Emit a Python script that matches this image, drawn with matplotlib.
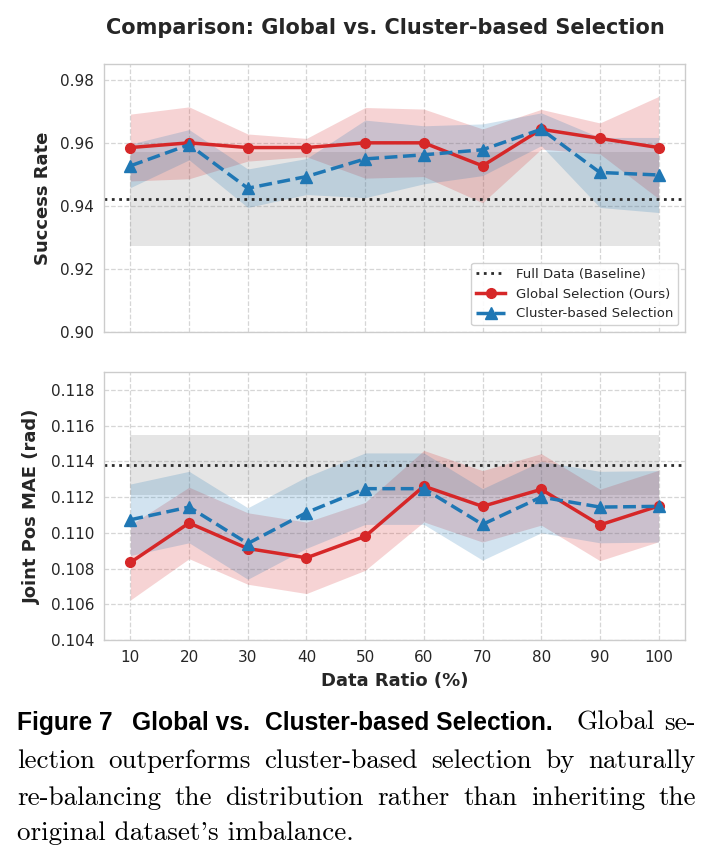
import matplotlib
matplotlib.use("Agg")
import matplotlib.pyplot as plt

# data
ratios = [10, 20, 30, 40, 50, 60, 70, 80, 90, 100]

global_sr = [0.9585, 0.9600, 0.9585, 0.9585, 0.9600, 0.9600, 0.9527, 0.9643, 0.9614, 0.9585]
global_sr_std = [0.0106, 0.0114, 0.0043, 0.0029, 0.0112, 0.0107, 0.0117, 0.0063, 0.0049, 0.0162]
cluster_sr = [0.9527, 0.9594, 0.9456, 0.9493, 0.9549, 0.9562, 0.9578, 0.9643, 0.9506, 0.9498]
cluster_sr_std = [0.0069, 0.0048, 0.0061, 0.0057, 0.0123, 0.0092, 0.0082, 0.0052, 0.0111, 0.0119]
baseline_sr = 0.9422
baseline_sr_std = 0.0150

global_mae = [0.10834, 0.11055, 0.10912, 0.10860, 0.10980, 0.11261, 0.11148, 0.11243, 0.11044, 0.11150]
global_mae_std = [0.0021, 0.0020, 0.0020, 0.0020, 0.0019, 0.0020, 0.0020, 0.0020, 0.0020, 0.0020]
cluster_mae = [0.11073, 0.11144, 0.10940, 0.11113, 0.11247, 0.11247, 0.11047, 0.11200, 0.11144, 0.11148]
cluster_mae_std = [0.0020, 0.0020, 0.0020, 0.0020, 0.0020, 0.0020, 0.0020, 0.0020, 0.0020, 0.0020]
baseline_mae = 0.1138
baseline_mae_std = 0.0017

sr_ticks = [0.90, 0.92, 0.94, 0.96, 0.98]
mae_ticks = [0.104, 0.106, 0.108, 0.110, 0.112, 0.114, 0.116, 0.118]

RED = "#d62728"
BLUE = "#1f77b4"
TXT = "#262626"
W, H = 713, 852

plt.rcParams["font.family"] = ["DejaVu Sans"]


def px_box(left, top, right, bottom):
    return [left / W, 1 - bottom / H, (right - left) / W, (bottom - top) / H]


def draw_panel(ax, base, base_std, g, g_std, c, c_std, show_legend):
    lo_b = [base - base_std] * len(ratios)
    hi_b = [base + base_std] * len(ratios)
    ax.fill_between(ratios, lo_b, hi_b, color="gray", alpha=0.2, lw=0)
    ax.fill_between(ratios, [m - s for m, s in zip(g, g_std)],
                    [m + s for m, s in zip(g, g_std)], color=RED, alpha=0.2, lw=0)
    ax.fill_between(ratios, [m - s for m, s in zip(c, c_std)],
                    [m + s for m, s in zip(c, c_std)], color=BLUE, alpha=0.2, lw=0)
    ax.axhline(base, color="#2b2b2b", ls=":", lw=2, label="Full Data (Baseline)")
    ax.plot(ratios, g, color=RED, lw=2.5, marker="o", ms=7, label="Global Selection (Ours)")
    ax.plot(ratios, c, color=BLUE, lw=2.5, ls="--", marker="^", ms=8,
            label="Cluster-based Selection")

    ax.grid(True, ls="--", color="#cccccc", lw=0.9, alpha=0.8)
    ax.set_axisbelow(True)
    for sp in ax.spines.values():
        sp.set_color("#cccccc")
        sp.set_linewidth(1.0)
    ax.tick_params(length=0, pad=7, labelsize=11, labelcolor=TXT)
    if show_legend:
        leg = ax.legend(loc="lower right", fontsize=9.5, framealpha=0.9,
                        edgecolor="#cccccc", handlelength=2.2)
        for t in leg.get_texts():
            t.set_color(TXT)


fig = plt.figure(figsize=(W / 100, H / 100), dpi=100)
ax1 = fig.add_axes(px_box(104, 64, 685, 332))
ax2 = fig.add_axes(px_box(104, 372, 685, 640), sharex=ax1)

draw_panel(ax1, baseline_sr, baseline_sr_std, global_sr, global_sr_std,
           cluster_sr, cluster_sr_std, True)
draw_panel(ax2, baseline_mae, baseline_mae_std, global_mae, global_mae_std,
           cluster_mae, cluster_mae_std, False)

ax1.set_xticks(ratios)
ax1.set_xlim(5.5, 104.5)
ax1.tick_params(labelbottom=False)
ax1.set_ylim(0.90, 0.985)
ax1.set_yticks(sr_ticks)
ax1.set_yticklabels([f"{v:.2f}" for v in sr_ticks])
ax2.set_ylim(0.104, 0.119)
ax2.set_yticks(mae_ticks)
ax2.set_yticklabels([f"{v:.3f}" for v in mae_ticks])

ax1.set_ylabel("Success Rate", fontsize=13, fontweight="bold", color=TXT, labelpad=6)
ax2.set_ylabel("Joint Pos MAE (rad)", fontsize=13, fontweight="bold", color=TXT, labelpad=7)
ax2.set_xlabel("Data Ratio (%)", fontsize=13, fontweight="bold", color=TXT, labelpad=5)

fig.text(385 / W, 1 - 28 / H, "Comparison: Global vs. Cluster-based Selection",
         ha="center", va="center", fontsize=15, fontweight="bold", color=TXT)

# caption, justified like the paper's text block
B = dict(family=["Liberation Sans", "DejaVu Sans"], weight="bold", size=17.7)
S = dict(family=["cmr10", "DejaVu Serif"], size=19.5)
LEFT, RIGHT = 17, 696

line2 = "lection outperforms cluster-based selection by naturally".split()
line3 = "re-balancing the distribution rather than inheriting the".split()
cap_lines = [
    ([("Figure 7", B), ("Global vs.", B), ("Cluster-based Selection.", B),
      ("Global", S), ("se-", S)], [2.0, 1.5, 2.4, 1.0], 730, True),
    ([(w, S) for w in line2], [1.0] * (len(line2) - 1), 768, True),
    ([(w, S) for w in line3], [1.0] * (len(line3) - 1), 805, True),
    ([("original dataset's imbalance.", S)], [], 840, False),
]

renderer = fig.canvas.get_renderer()
for tokens, weights, y_px, justify in cap_lines:
    texts = [fig.text(0, 1 - y_px / H, s, ha="left", va="baseline", color="black", **p)
             for s, p in tokens]
    widths = [t.get_window_extent(renderer).width for t in texts]
    unit = (RIGHT - LEFT - sum(widths)) / sum(weights) if justify else 0
    x = LEFT
    for i, (t, w) in enumerate(zip(texts, widths)):
        if i > 0:
            x += weights[i - 1] * unit
        t.set_x(x / W)
        x += w

fig.savefig("out.png", dpi=100)
